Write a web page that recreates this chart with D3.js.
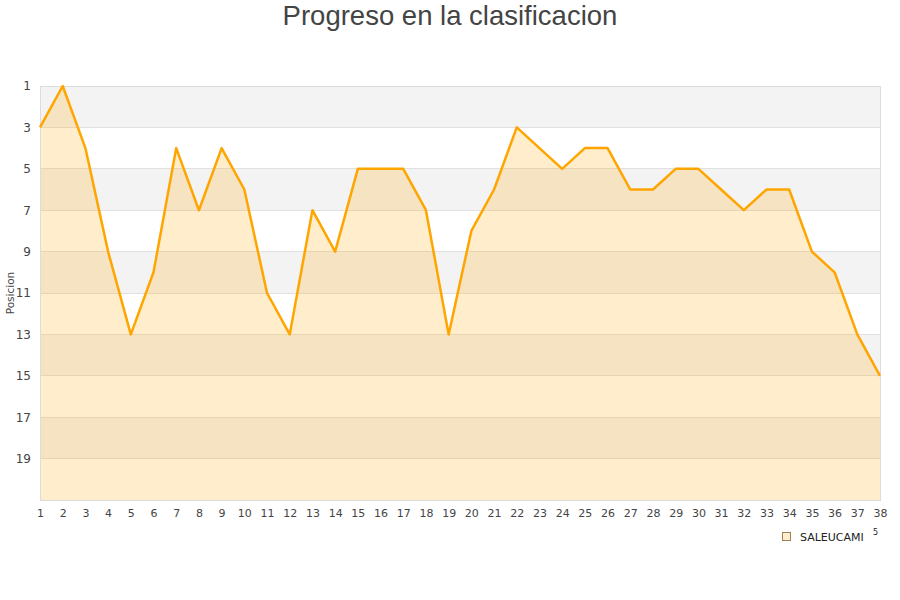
<!DOCTYPE html>
<html><head><meta charset="utf-8">
<script src="https://cdn.jsdelivr.net/npm/d3@7"></script>
<style>body{margin:0;background:#fff;}svg{display:block;}</style>
</head><body>
<svg id="chart" width="900" height="600"></svg>
<script>
const jornadas = d3.range(1, 39);
const posiciones = [3,1,4,9,13,10,4,7,4,6,11,13,7,9,5,5,5,7,13,8,6,3,4,5,4,4,6,6,5,5,6,7,6,6,9,10,13,15];
const yTicks = [1,3,5,7,9,11,13,15,17,19];
const seriesName = "SALEUCAMI";
const titleText = "Progreso en la clasificacion";
const yLabel = "Posicion";

const svg = d3.select("#chart");
const L = 40, R = 880, T = 86, B = 500;
const x = d3.scaleLinear().domain([1, 38]).range([L, R]);
const y = d3.scaleLinear().domain([1, 21]).range([T, B]);

// bands
const bands = [[1,3],[5,7],[9,11],[13,15],[17,19]];
svg.append("g").selectAll("rect").data(bands).join("rect")
  .attr("x", L).attr("width", R - L)
  .attr("y", d => y(d[0])).attr("height", d => y(d[1]) - y(d[0]))
  .attr("fill", "#f3f3f3");

// grid lines
svg.append("g").selectAll("line").data(yTicks.concat([21])).join("line")
  .attr("x1", L).attr("x2", R)
  .attr("y1", d => y(d)).attr("y2", d => y(d))
  .attr("stroke", "#e0e0e0").attr("stroke-width", 1).attr("shape-rendering", "crispEdges");

// area
const area = d3.area().x((d, i) => x(jornadas[i])).y0(y(21)).y1(d => y(d));
svg.append("path").datum(posiciones).attr("d", area)
  .attr("fill", "#ffa500").attr("fill-opacity", 0.2);

// border
svg.append("rect").attr("x", L).attr("y", T).attr("width", R - L).attr("height", B - T)
  .attr("fill", "none").attr("stroke", "#dcdcdc").attr("shape-rendering", "crispEdges");

// line
const line = d3.line().x((d, i) => x(jornadas[i])).y(d => y(d));
svg.append("path").datum(posiciones).attr("d", line)
  .attr("fill", "none").attr("stroke", "#ffa500").attr("stroke-width", 2.5)
  .attr("stroke-linejoin", "round");

// y axis
const yAxis = d3.axisLeft(y).tickValues(yTicks).tickSize(0).tickPadding(9);
const gy = svg.append("g").attr("transform", `translate(${L},0)`).call(yAxis);
gy.select(".domain").remove();
gy.selectAll("text").attr("font-family", "DejaVu Sans, sans-serif").attr("font-size", 12).attr("fill", "#444");

// x axis
const xAxis = d3.axisBottom(x).tickValues(jornadas).tickSize(0).tickPadding(9).tickFormat(d3.format("d"));
const gx = svg.append("g").attr("transform", `translate(0,${B})`).call(xAxis);
gx.select(".domain").remove();
gx.selectAll("text").attr("font-family", "DejaVu Sans, sans-serif").attr("font-size", 11).attr("fill", "#444");

// y label
svg.append("text").attr("transform", "translate(14,293) rotate(-90)")
  .attr("text-anchor", "middle").attr("font-family", "DejaVu Sans, sans-serif")
  .attr("font-size", 10.5).attr("fill", "#444").text(yLabel);

// title
svg.append("text").attr("x", 450).attr("y", 25).attr("text-anchor", "middle")
  .attr("font-family", "Liberation Sans, Arial, sans-serif").attr("font-size", 27.5)
  .attr("fill", "#444").text(titleText);

// legend
const lg = svg.append("g").attr("transform", "translate(782,532)");
lg.append("rect").attr("x", 0.5).attr("y", 0.5).attr("width", 8).attr("height", 8)
  .attr("fill", "#ffedcc").attr("stroke", "#a08050").attr("stroke-width", 1);
lg.append("text").attr("x", 18).attr("y", 8.5).attr("font-family", "DejaVu Sans, sans-serif")
  .attr("font-size", 11).attr("fill", "#222").text(seriesName);
svg.append("text").attr("x", 873).attr("y", 535).attr("font-family", "DejaVu Sans, sans-serif")
  .attr("font-size", 8).attr("fill", "#222").text("5");
</script>
</body></html>
